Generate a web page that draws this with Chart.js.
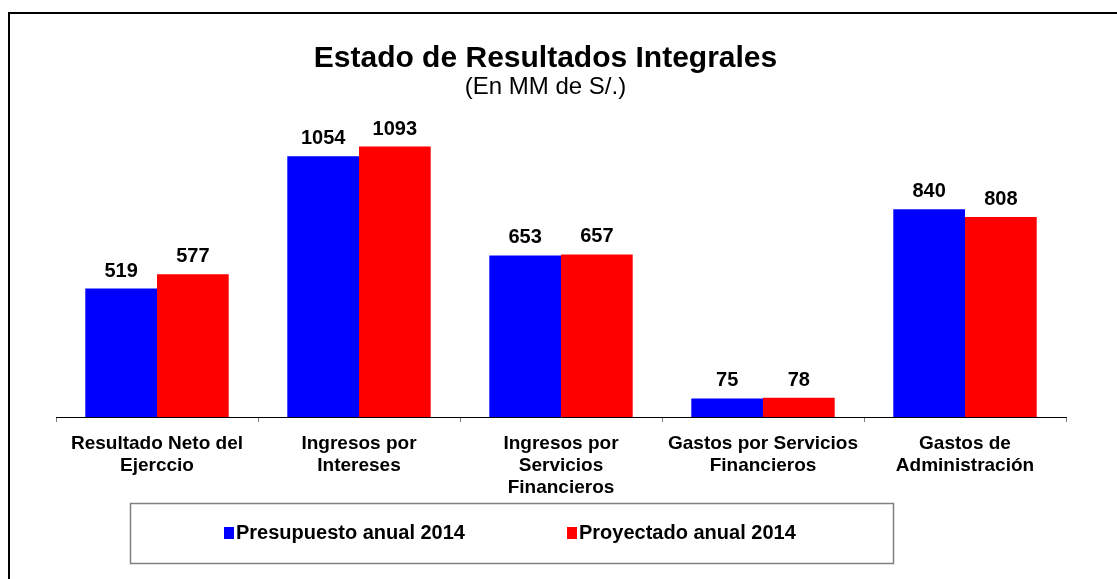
<!DOCTYPE html>
<html>
<head>
<meta charset="utf-8">
<script src="https://cdn.jsdelivr.net/npm/chart.js@4/dist/chart.umd.min.js"></script>
<style>
  html, body { margin: 0; padding: 0; background: #ffffff; overflow: hidden; }
  #frame { position: absolute; left: 8px; top: 12px; width: 1200px; height: 700px; border: 2px solid #000; box-sizing: border-box; }
  #c { position: absolute; left: 0; top: 0; }
</style>
</head>
<body>
<div id="frame"></div>
<canvas id="c" width="1117" height="579"></canvas>
<script>
const titleText = "Estado de Resultados Integrales";
const subtitleText = "(En MM de S/.)";
const categories = [
  ["Resultado Neto del", "Ejerccio"],
  ["Ingresos por", "Intereses"],
  ["Ingresos por", "Servicios", "Financieros"],
  ["Gastos por Servicios", "Financieros"],
  ["Gastos de", "Administración"]
];
const seriesNames = ["Presupuesto anual 2014", "Proyectado anual 2014"];
const presupuesto = [519, 1054, 653, 75, 840];
const proyectado = [577, 1093, 657, 78, 808];
const seriesColors = ["#0000FF", "#FF0000"];

const FONT = "'Liberation Sans', Arial, sans-serif";

const valueLabels = {
  id: 'valueLabels',
  afterDatasetsDraw(chart) {
    const ctx = chart.ctx;
    ctx.save();
    ctx.font = "bold 20px " + FONT;
    ctx.fillStyle = "#000";
    ctx.textAlign = "center";
    ctx.textBaseline = "alphabetic";
    chart.data.datasets.forEach((ds, i) => {
      const meta = chart.getDatasetMeta(i);
      meta.data.forEach((bar, j) => {
        ctx.fillText(String(ds.data[j]), bar.x, bar.y - 12);
      });
    });
    ctx.restore();
  }
};

const boxLegend = {
  id: 'boxLegend',
  afterDraw(chart) {
    const ctx = chart.ctx;
    ctx.save();
    ctx.strokeStyle = "#808080";
    ctx.lineWidth = 1.5;
    ctx.strokeRect(130.5, 503.5, 763, 60);
    ctx.font = "bold 20px " + FONT;
    ctx.textAlign = "left";
    ctx.textBaseline = "alphabetic";
    const starts = [224, 567];
    chart.data.datasets.forEach((ds, i) => {
      const x = starts[i];
      ctx.fillStyle = ds.backgroundColor;
      ctx.fillRect(x, 527, 10, 12);
      ctx.fillStyle = "#000";
      ctx.fillText(ds.label, x + 12, 539);
    });
    ctx.restore();
  }
};

new Chart(document.getElementById('c'), {
  type: 'bar',
  data: {
    labels: categories,
    datasets: [
      { label: seriesNames[0], data: presupuesto, backgroundColor: seriesColors[0], borderWidth: 0 },
      { label: seriesNames[1], data: proyectado, backgroundColor: seriesColors[1], borderWidth: 0 }
    ]
  },
  options: {
    responsive: false,
    animation: false,
    devicePixelRatio: 1,
    categoryPercentage: 0.71,
    barPercentage: 1.0,
    layout: { padding: { left: 25, right: 51, top: 30, bottom: 0 } },
    plugins: {
      legend: { display: false },
      tooltip: { enabled: false },
      title: {
        display: true,
        text: titleText,
        color: "#000",
        font: { family: FONT, size: 30, weight: 'bold', lineHeight: 1.0 },
        padding: { top: 13.5, bottom: 0 }
      },
      subtitle: {
        display: true,
        text: subtitleText,
        color: "#000",
        font: { family: FONT, size: 24, weight: 'normal', lineHeight: 1.15 },
        padding: { top: 0, bottom: 19 }
      }
    },
    scales: {
      y: {
        display: true,
        min: 0,
        max: 1200,
        grid: { display: false, drawTicks: false },
        border: { display: false },
        ticks: { display: false },
        afterFit(scale) { scale.width = 31; }
      },
      x: {
        offset: true,
        grid: {
          offset: true,
          drawOnChartArea: false,
          drawTicks: true,
          tickLength: 5,
          color: "#808080",
          lineWidth: 1
        },
        border: { display: true, color: "#000", width: 1 },
        ticks: {
          color: "#000",
          padding: 11,
          maxRotation: 0,
          autoSkip: false,
          font: { family: FONT, size: 19, weight: 'bold', lineHeight: 1.16 }
        },
        afterFit(scale) { scale.height = 162; }
      }
    }
  },
  plugins: [valueLabels, boxLegend]
});
</script>
</body>
</html>
